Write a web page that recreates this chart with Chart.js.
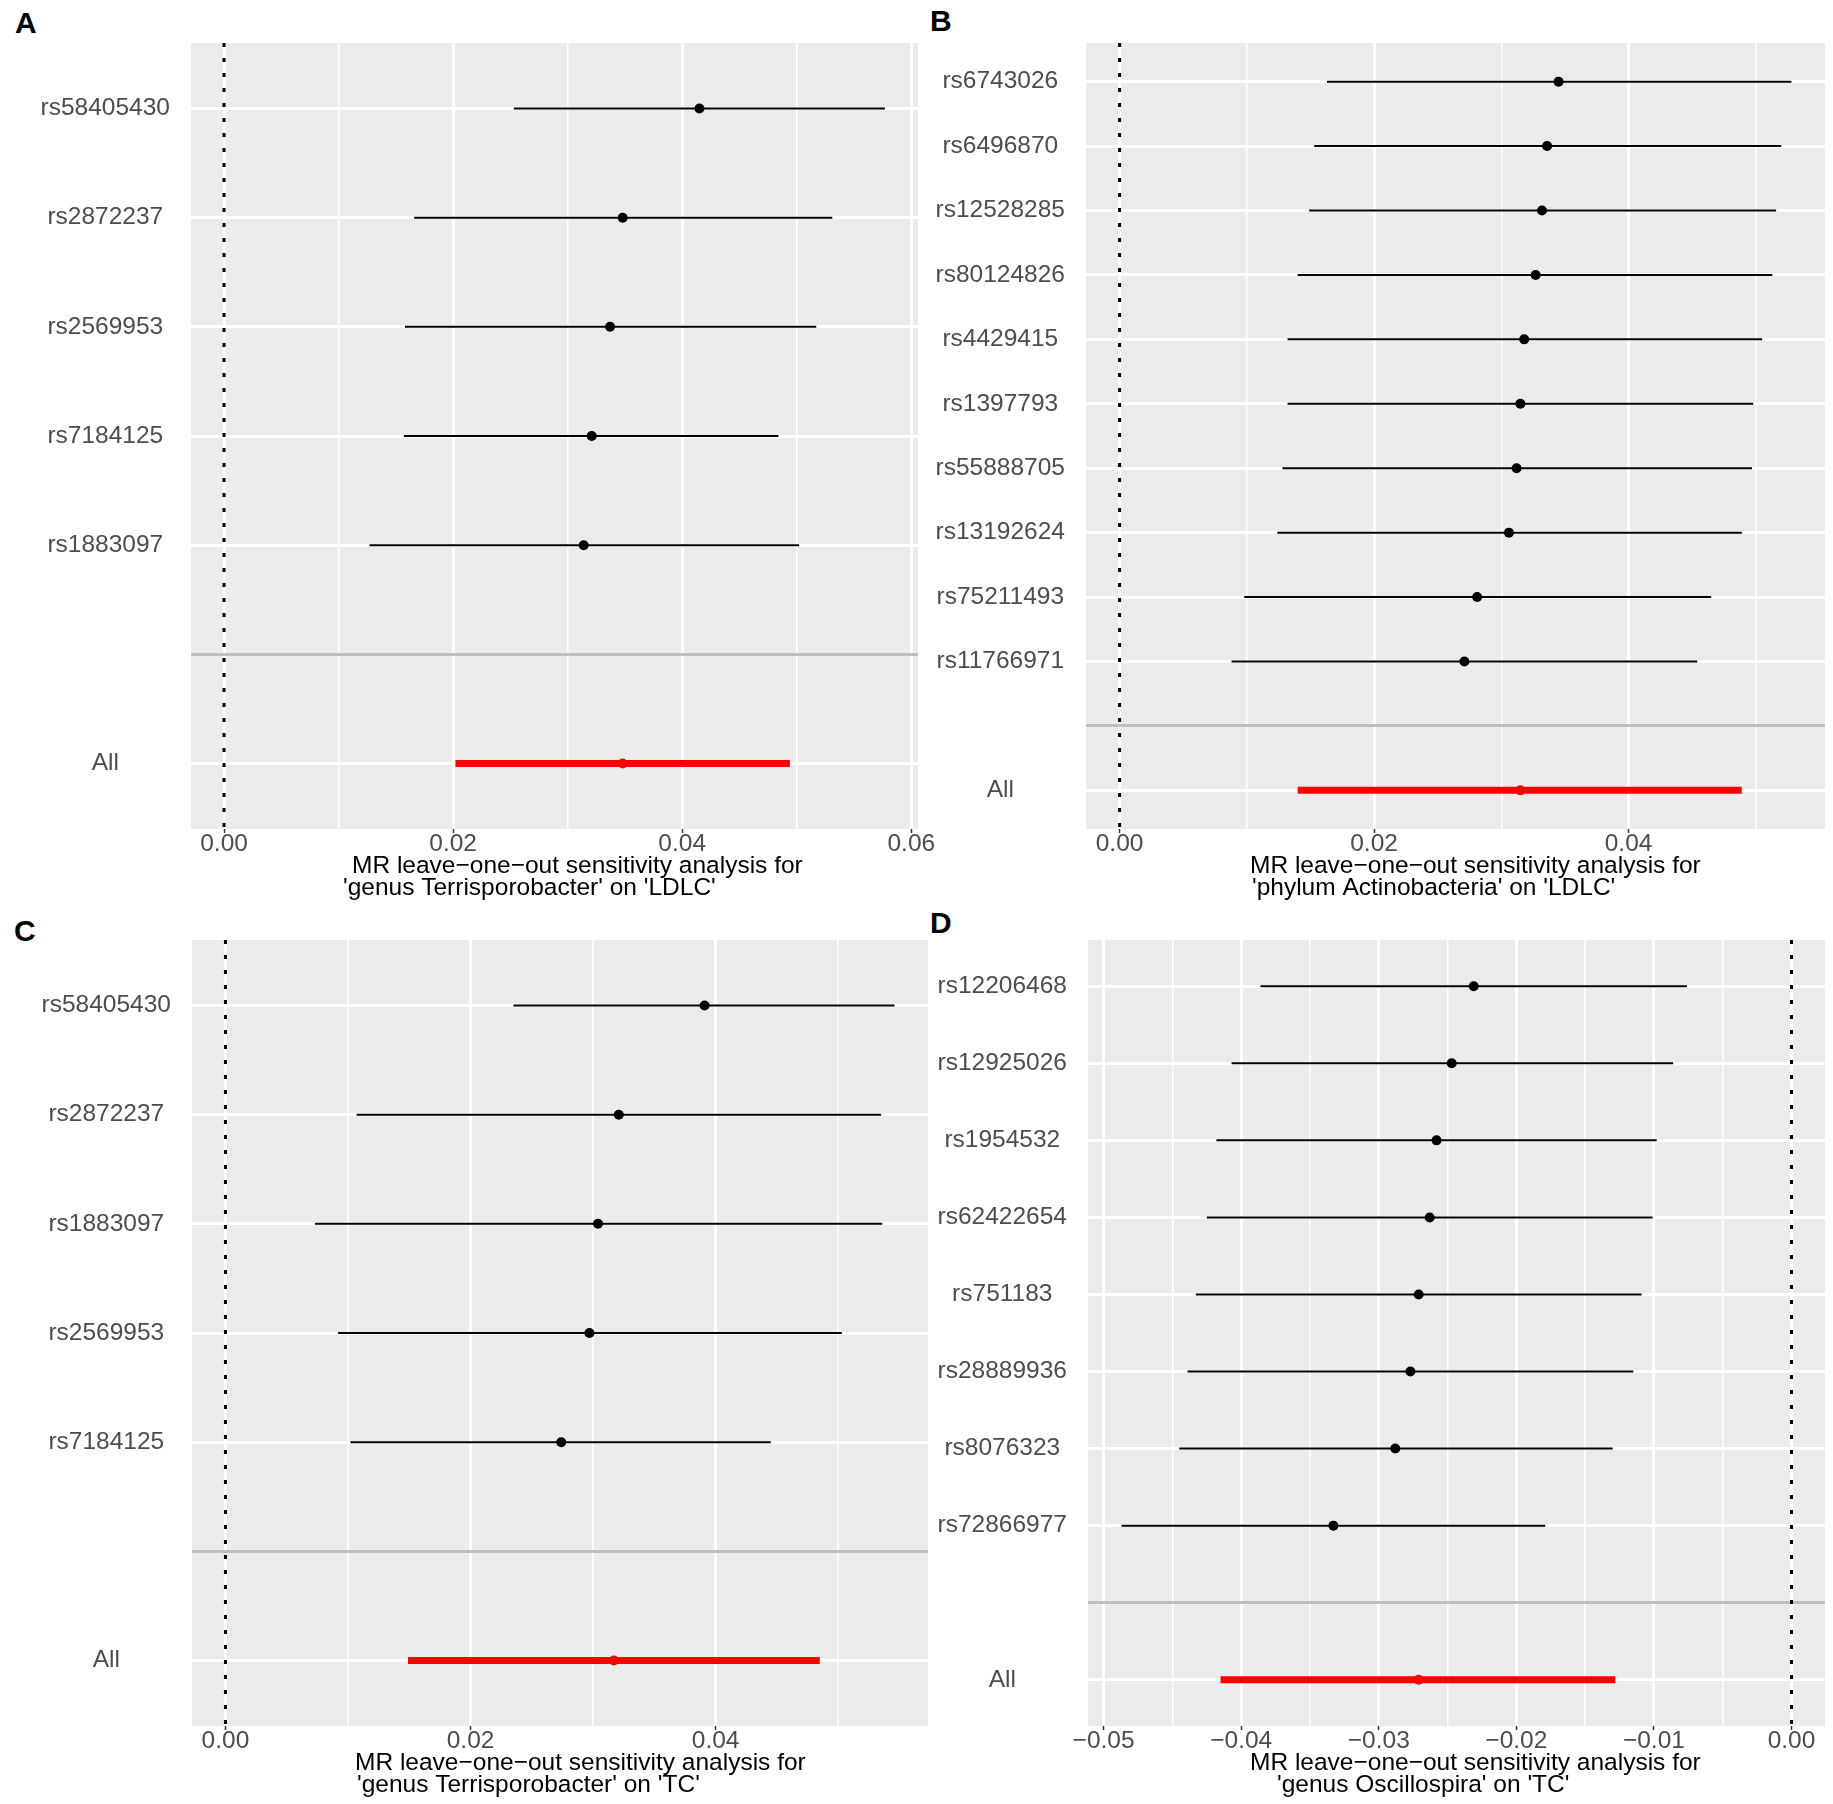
<!DOCTYPE html>
<html>
<head>
<meta charset="utf-8">
<script src="https://cdn.jsdelivr.net/npm/chart.js@4.4.1/dist/chart.umd.min.js"></script>
<style>
body { margin: 0; background: #fff; width: 1833px; height: 1804px; position: relative; overflow: hidden; font-family: 'Liberation Sans', Arial, sans-serif; }
canvas { position: absolute; }
.tag { position: absolute; font-weight: bold; font-size: 30px; line-height: 1; color: #000; }
</style>
</head>
<body>
<div class="tag" style="left:15px;top:8px">A</div>
<div class="tag" style="left:930px;top:6px">B</div>
<div class="tag" style="left:14px;top:916px">C</div>
<div class="tag" style="left:930px;top:908px">D</div>

<canvas id="chartA" width="960" height="900" style="left:0;top:0"></canvas>
<canvas id="chartB" width="903" height="900" style="left:930px;top:0"></canvas>
<canvas id="chartC" width="933" height="904" style="left:0;top:900px"></canvas>
<canvas id="chartD" width="900" height="904" style="left:933px;top:900px"></canvas>

<script>
// A : genus Terrisporobacter on LDLC
var snpA  = ['rs58405430', 'rs2872237', 'rs2569953', 'rs7184125', 'rs1883097', 'All'];
var estA  = [0.0415, 0.0348, 0.0337, 0.0321, 0.0314, 0.0348];
var lowA  = [0.0253, 0.0166, 0.0158, 0.0157, 0.0127, 0.0202];
var highA = [0.0577, 0.0531, 0.0517, 0.0484, 0.0502, 0.0494];
var ticksA = [0, 0.02, 0.04, 0.06];
var titleA = ['MR leave\u2212one\u2212out sensitivity analysis for', "'genus Terrisporobacter' on 'LDLC'"];

// B : phylum Actinobacteria on LDLC
var snpB  = ['rs6743026', 'rs6496870', 'rs12528285', 'rs80124826', 'rs4429415', 'rs1397793',
             'rs55888705', 'rs13192624', 'rs75211493', 'rs11766971', 'All'];
var estB  = [0.0345, 0.0336, 0.0332, 0.0327, 0.0318, 0.0315, 0.0312, 0.0306, 0.0281, 0.0271, 0.0315];
var lowB  = [0.0163, 0.0153, 0.0149, 0.0140, 0.0132, 0.0132, 0.0128, 0.0124, 0.0098, 0.0088, 0.0140];
var highB = [0.0528, 0.0520, 0.0516, 0.0513, 0.0505, 0.0498, 0.0497, 0.0489, 0.0465, 0.0454, 0.0489];
var ticksB = [0, 0.02, 0.04];
var titleB = ['MR leave\u2212one\u2212out sensitivity analysis for', "'phylum Actinobacteria' on 'LDLC'"];

// C : genus Terrisporobacter on TC
var snpC  = ['rs58405430', 'rs2872237', 'rs1883097', 'rs2569953', 'rs7184125', 'All'];
var estC  = [0.0391, 0.0321, 0.0304, 0.0297, 0.0274, 0.0317];
var lowC  = [0.0235, 0.0107, 0.0073, 0.0092, 0.0102, 0.0149];
var highC = [0.0546, 0.0535, 0.0536, 0.0503, 0.0445, 0.0485];
var ticksC = [0, 0.02, 0.04];
var titleC = ['MR leave\u2212one\u2212out sensitivity analysis for', "'genus Terrisporobacter' on 'TC'"];

// D : genus Oscillospira on TC
var snpD  = ['rs12206468', 'rs12925026', 'rs1954532', 'rs62422654', 'rs751183', 'rs28889936',
             'rs8076323', 'rs72866977', 'All'];
var estD  = [-0.0231, -0.0247, -0.0258, -0.0263, -0.0271, -0.0277, -0.0288, -0.0333, -0.0271];
var lowD  = [-0.0386, -0.0407, -0.0418, -0.0425, -0.0433, -0.0439, -0.0445, -0.0487, -0.0415];
var highD = [-0.0076, -0.0086, -0.0098, -0.0101, -0.0109, -0.0115, -0.0130, -0.0179, -0.0128];
var ticksD = [-0.05, -0.04, -0.03, -0.02, -0.01, 0];
var titleD = ['MR leave\u2212one\u2212out sensitivity analysis for', "'genus Oscillospira' on 'TC'"];

var FONT = "'Liberation Sans', Arial, sans-serif";
var FSIZE = 24.5;

function isIn(v, list) {
	for (var i = 0; i < list.length; i++) {
		if (Math.abs(list[i] - v) < 1e-9) return true;
	}
	return false;
}

function fmt(v) {
	var s = Math.abs(v).toFixed(2);
	return (v < -1e-9 ? '\u2212' : '') + s;
}

var panelBg = {
	id: 'panelBg',
	beforeDraw: function(chart) {
		var a = chart.chartArea, c = chart.ctx;
		c.save();
		c.fillStyle = '#EBEBEB';
		c.fillRect(a.left, a.top, a.right - a.left, a.bottom - a.top);
		c.restore();
	}
};

var xTitle = {
	id: 'xTitle',
	afterDraw: function(chart, args, opts) {
		var a = chart.chartArea, c = chart.ctx;
		c.save();
		c.fillStyle = '#000';
		c.font = FSIZE + 'px ' + FONT;
		c.textAlign = 'left';
		c.textBaseline = 'alphabetic';
		c.fillText(opts.lines[0], a.left + opts.x1, a.bottom + 44);
		c.fillText(opts.lines[1], a.left + opts.x2, a.bottom + 66);
		c.restore();
	}
};

function makePanel(id, snps, est, low, high, ticks, title, lay) {
	var n = snps.length;
	var pos = snps.map(function(s, i) { return i < n - 1 ? i + 1 : n + 1; });
	var yLabels = snps.slice(0, n - 1).concat(['', 'All']);

	var lo = Math.min.apply(null, low.concat([0]));
	var hi = Math.max.apply(null, high.concat([0]));
	var pad = (hi - lo) * 0.05;
	var xmin = lo - pad, xmax = hi + pad;

	var step = ticks[1] - ticks[0];
	var minor = [];
	for (var i = -1; i < ticks.length; i++) {
		var m = (i < 0 ? ticks[0] - step : ticks[i]) + step / 2;
		if (m > xmin && m < xmax) minor.push(m);
	}
	var allTicks = ticks.concat(minor).sort(function(a, b) { return a - b; });

	var datasets = [];
	// dotted zero line
	datasets.push({
		data: [{x: 0, y: 0.4}, {x: 0, y: n + 1.6}],
		showLine: true, borderColor: '#000', borderWidth: 3, borderDash: [4, 11],
		borderCapStyle: 'butt', pointRadius: 0, order: 3
	});
	// confidence intervals
	for (var k = 0; k < n; k++) {
		var isAll = (k === n - 1);
		datasets.push({
			data: [{x: low[k], y: pos[k]}, {x: high[k], y: pos[k]}],
			showLine: true, borderColor: isAll ? '#FF0000' : '#000',
			borderWidth: isAll ? 7 : 2, pointRadius: 0, order: 2
		});
	}
	// estimates
	datasets.push({
		data: est.map(function(v, i) { return {x: v, y: pos[i]}; }),
		pointRadius: 5, pointBorderWidth: 0,
		pointBackgroundColor: snps.map(function(s) { return s === 'All' ? '#FF0000' : '#000'; }),
		order: 1
	});

	return new Chart(document.getElementById(id), {
		type: 'scatter',
		data: { datasets: datasets },
		options: {
			responsive: false,
			devicePixelRatio: 1,
			animation: false,
			events: [],
			layout: { padding: { left: 0, top: lay.top, right: lay.right, bottom: 0 } },
			plugins: {
				legend: { display: false },
				tooltip: { enabled: false },
				xTitle: { lines: title, x1: lay.t1, x2: lay.t2 }
			},
			scales: {
				x: {
					type: 'linear',
					min: xmin, max: xmax,
					afterBuildTicks: function(scale) {
						scale.ticks = allTicks.map(function(v) { return {value: v}; });
					},
					afterFit: function(scale) { scale.height = lay.xh; },
					border: { display: false },
					grid: {
						color: '#FFFFFF',
						lineWidth: function(ctx) { return ctx.tick && isIn(ctx.tick.value, ticks) ? 3 : 1.5; },
						tickColor: function(ctx) { return ctx.tick && isIn(ctx.tick.value, ticks) ? '#333333' : 'rgba(0,0,0,0)'; },
						tickWidth: 1.5,
						tickLength: 4
					},
					ticks: {
						autoSkip: false, maxRotation: 0, minRotation: 0,
						padding: -3,
						color: '#4D4D4D',
						font: { family: FONT, size: FSIZE },
						callback: function(v) { return isIn(v, ticks) ? fmt(v) : ''; }
					}
				},
				y: {
					type: 'linear',
					reverse: true,
					min: 0.4, max: n + 1.6,
					afterBuildTicks: function(scale) {
						scale.ticks = yLabels.map(function(s, i) { return {value: i + 1}; });
					},
					afterFit: function(scale) { scale.width = lay.yw; },
					border: { display: false },
					grid: {
						color: function(ctx) { return ctx.tick && ctx.tick.value === n ? '#BEBEBE' : '#FFFFFF'; },
						lineWidth: 3,
						tickColor: 'rgba(0,0,0,0)',
						tickLength: 5
					},
					ticks: {
						autoSkip: false,
						crossAlign: 'center',
						padding: 16,
						color: '#4D4D4D',
						font: { family: FONT, size: FSIZE },
						callback: function(v) { return yLabels[v - 1]; }
					}
				}
			}
		},
		plugins: [panelBg, xTitle]
	});
}

makePanel('chartA', snpA, estA, lowA, highA, ticksA, titleA, {top: 43, right: 42, yw: 191, xh: 71, t1: 161, t2: 152});
makePanel('chartB', snpB, estB, lowB, highB, ticksB, titleB, {top: 43, right: 8, yw: 156, xh: 71, t1: 164, t2: 166});
makePanel('chartC', snpC, estC, lowC, highC, ticksC, titleC, {top: 40, right: 3, yw: 192, xh: 78, t1: 163, t2: 165});
makePanel('chartD', snpD, estD, lowD, highD, ticksD, titleD, {top: 40, right: 8, yw: 155, xh: 78, t1: 162, t2: 189});
</script>
</body>
</html>
